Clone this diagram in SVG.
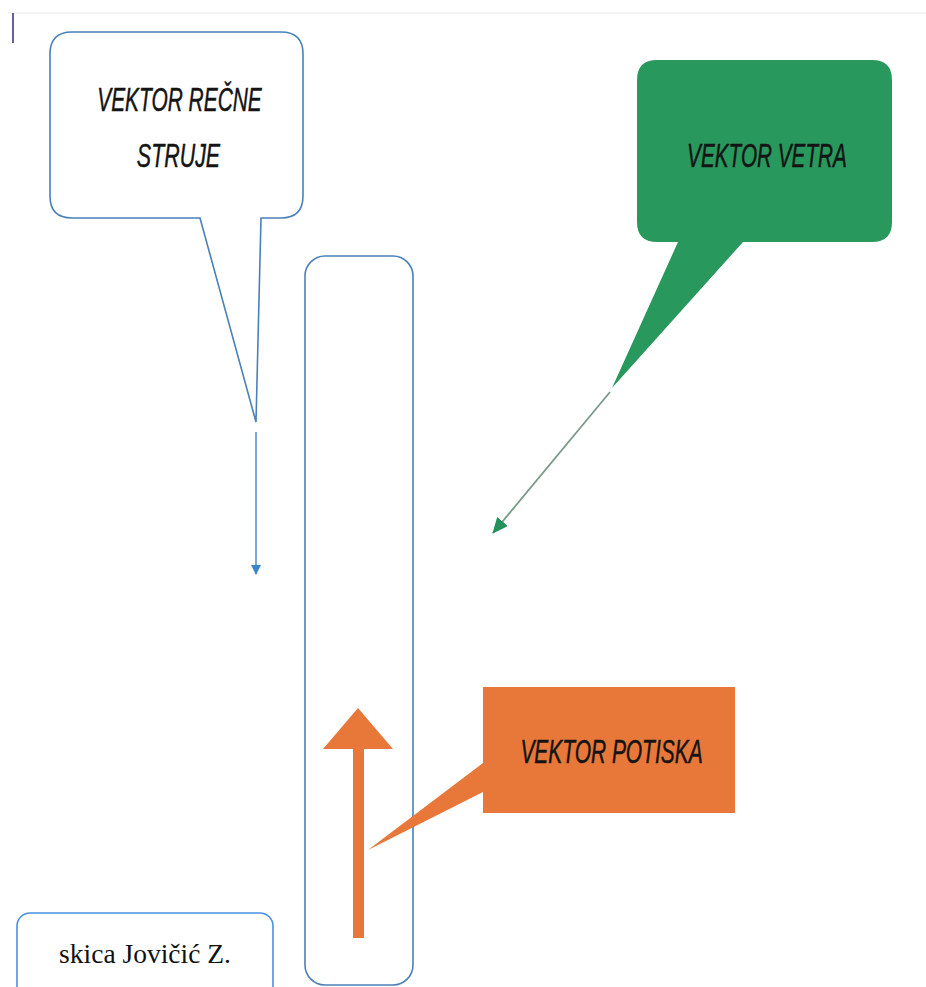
<svg xmlns="http://www.w3.org/2000/svg" width="926" height="987" viewBox="0 0 926 987">
<style>
.lbl{font-family:"Liberation Sans",Arial,sans-serif;font-style:italic;font-size:34px;fill:#141414;stroke:#141414;stroke-width:0.5;text-anchor:middle}
.outline{fill:#ffffff;stroke:#4a80b8;stroke-width:1.6}
</style>
<defs>
<marker id="ahBlue" markerWidth="10" markerHeight="10" refX="9" refY="5" orient="auto" markerUnits="userSpaceOnUse">
<path d="M0,0 L10,5 L0,10 z" fill="#3a86cc"/>
</marker>
<marker id="ahGreen" markerWidth="16" markerHeight="14" refX="15" refY="7" orient="auto" markerUnits="userSpaceOnUse">
<path d="M0,0 L16,7 L0,14 z" fill="#23915a"/>
</marker>
</defs>
<rect width="926" height="987" fill="#ffffff"/>
<line x1="8" y1="13" x2="926" y2="13" stroke="#f0f0f0" stroke-width="1.5"/>
<line x1="13" y1="13" x2="13" y2="43" stroke="#6a5aa8" stroke-width="2"/>

<g id="boat">
<rect x="305" y="256" width="108" height="729" rx="20" class="outline"/>
</g>

<g id="callout-river">
<path class="outline" d="M72,32 H281 Q303,32 303,54 V196 Q303,218 281,218 H261 L256,422 L200,218 H72 Q50,218 50,196 V54 Q50,32 72,32 Z"/>
<text class="lbl" transform="translate(179.5,111) scale(0.615,1)">VEKTOR REČNE</text>
<text class="lbl" transform="translate(178.5,167) scale(0.63,1)">STRUJE</text>
</g>

<g id="callout-wind">
<path fill="#28985d" d="M657,60 H872 Q892,60 892,80 V222 Q892,242 872,242 H743 L612,388 L678,242 H657 Q637,242 637,222 V80 Q637,60 657,60 Z"/>
<text class="lbl" transform="translate(767,167) scale(0.61,1)">VEKTOR VETRA</text>
</g>

<g id="callout-thrust">
<path fill="#e8773a" d="M483,687 H735 V813 H483 V792 L368,850 L483,763 Z"/>
<text class="lbl" transform="translate(611.5,763) scale(0.616,1)">VEKTOR POTISKA</text>
</g>

<g id="thrust-arrow">
<rect x="353" y="748" width="11" height="190" fill="#e8773a"/>
<path d="M323,749 L358,708 L393,749 Z" fill="#e8773a"/>
</g>

<g id="connectors">
<line x1="256" y1="432" x2="256" y2="574" stroke="#4a8acb" stroke-width="1.5" marker-end="url(#ahBlue)"/>
<line x1="610" y1="392" x2="493" y2="533" stroke="#7a9a88" stroke-width="1.8" marker-end="url(#ahGreen)"/>
</g>

<g id="credit">
<rect x="17" y="913" width="256" height="90" rx="13" fill="#ffffff" stroke="#4a90e2" stroke-width="1.6"/>
<text x="145" y="963" text-anchor="middle" font-family="Liberation Serif,'Times New Roman',serif" font-size="27.5" fill="#111">skica Jovičić Z.</text>
</g>
</svg>
